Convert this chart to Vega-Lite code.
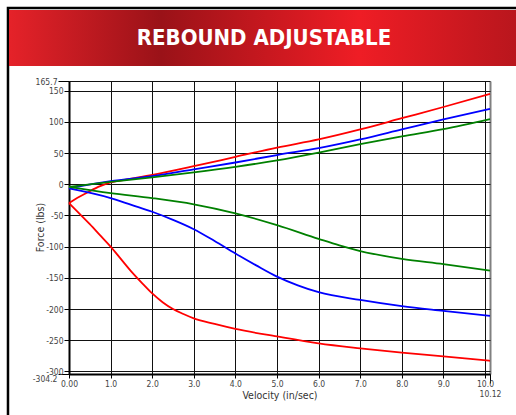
{
  "$schema": "https://vega.github.io/schema/vega-lite/v6.json",
  "width": 421,
  "height": 293,
  "autosize": {"type": "none"},
  "padding": {"left": 69, "top": 81, "right": 26, "bottom": 41},
  "background": "white",
  "config": {
    "view": {"stroke": null},
    "font": "DejaVu Sans Condensed, Liberation Sans, sans-serif",
    "axis": {"labelFont": "DejaVu Sans Condensed, Liberation Sans, sans-serif", "titleFont": "DejaVu Sans Condensed, Liberation Sans, sans-serif"}
  },
  "layer": [
    {
      "data": {"values": [{"title": "REBOUND ADJUSTABLE"}]},
      "layer": [
        {
          "mark": {"type": "rect", "filled": false, "stroke": "black", "strokeWidth": 2.5},
          "encoding": {
            "x": {"datum": -0.002, "type": "quantitative", "scale": {"domain": [0, 1], "range": [-60, 447], "nice": false, "zero": false}, "axis": null},
            "x2": {"datum": 1.2},
            "y": {"datum": -0.036, "type": "quantitative", "scale": {"domain": [0, 1], "range": [-71, -15], "nice": false, "zero": false}, "axis": null},
            "y2": {"datum": 8}
          }
        },
        {
          "mark": {
            "type": "rect",
            "color": {
              "gradient": "linear",
              "x1": 0, "y1": 0, "x2": 1, "y2": 0,
              "stops": [
                {"offset": 0, "color": "#e52229"},
                {"offset": 0.3, "color": "#9a1218"},
                {"offset": 0.69, "color": "#ef1d25"},
                {"offset": 1, "color": "#b9161d"}
              ]
            }
          },
          "encoding": {
            "x": {"datum": 0, "type": "quantitative"},
            "x2": {"datum": 1},
            "y": {"datum": 0, "type": "quantitative"},
            "y2": {"datum": 1}
          }
        },
        {
          "mark": {"type": "text", "color": "white", "fontSize": 22, "fontWeight": "bold", "font": "DejaVu Sans Condensed, Liberation Sans, sans-serif", "baseline": "middle", "align": "center"},
          "encoding": {
            "x": {"datum": 0.503, "type": "quantitative"},
            "y": {"datum": 0.5, "type": "quantitative"},
            "text": {"field": "title"}
          }
        }
      ]
    },
    {
      "data": {
        "values": [
          {"setting": "Max", "stroke": "Compression", "v": 0, "f": -30},
          {"setting": "Max", "stroke": "Compression", "v": 0.25, "f": -20},
          {"setting": "Max", "stroke": "Compression", "v": 0.5, "f": -11},
          {"setting": "Max", "stroke": "Compression", "v": 0.75, "f": -3},
          {"setting": "Max", "stroke": "Compression", "v": 1, "f": 3},
          {"setting": "Max", "stroke": "Compression", "v": 1.5, "f": 9},
          {"setting": "Max", "stroke": "Compression", "v": 2, "f": 15},
          {"setting": "Max", "stroke": "Compression", "v": 3, "f": 29},
          {"setting": "Max", "stroke": "Compression", "v": 4, "f": 44},
          {"setting": "Max", "stroke": "Compression", "v": 5, "f": 59},
          {"setting": "Max", "stroke": "Compression", "v": 6, "f": 72},
          {"setting": "Max", "stroke": "Compression", "v": 7, "f": 88},
          {"setting": "Max", "stroke": "Compression", "v": 8, "f": 106},
          {"setting": "Max", "stroke": "Compression", "v": 9, "f": 124},
          {"setting": "Max", "stroke": "Compression", "v": 10.12, "f": 145},

          {"setting": "Max", "stroke": "Rebound", "v": 0, "f": -30},
          {"setting": "Max", "stroke": "Rebound", "v": 0.25, "f": -47},
          {"setting": "Max", "stroke": "Rebound", "v": 0.5, "f": -64},
          {"setting": "Max", "stroke": "Rebound", "v": 0.75, "f": -82},
          {"setting": "Max", "stroke": "Rebound", "v": 1, "f": -100},
          {"setting": "Max", "stroke": "Rebound", "v": 1.25, "f": -120},
          {"setting": "Max", "stroke": "Rebound", "v": 1.5, "f": -140},
          {"setting": "Max", "stroke": "Rebound", "v": 1.75, "f": -158},
          {"setting": "Max", "stroke": "Rebound", "v": 2, "f": -175},
          {"setting": "Max", "stroke": "Rebound", "v": 2.25, "f": -189},
          {"setting": "Max", "stroke": "Rebound", "v": 2.5, "f": -200},
          {"setting": "Max", "stroke": "Rebound", "v": 2.75, "f": -208},
          {"setting": "Max", "stroke": "Rebound", "v": 3, "f": -215},
          {"setting": "Max", "stroke": "Rebound", "v": 3.5, "f": -224},
          {"setting": "Max", "stroke": "Rebound", "v": 4, "f": -232},
          {"setting": "Max", "stroke": "Rebound", "v": 5, "f": -244},
          {"setting": "Max", "stroke": "Rebound", "v": 6, "f": -255},
          {"setting": "Max", "stroke": "Rebound", "v": 7, "f": -263},
          {"setting": "Max", "stroke": "Rebound", "v": 8, "f": -270},
          {"setting": "Max", "stroke": "Rebound", "v": 9, "f": -276},
          {"setting": "Max", "stroke": "Rebound", "v": 10.12, "f": -283},

          {"setting": "Mid", "stroke": "Compression", "v": 0, "f": -6.5},
          {"setting": "Mid", "stroke": "Compression", "v": 1, "f": 5},
          {"setting": "Mid", "stroke": "Compression", "v": 2, "f": 13},
          {"setting": "Mid", "stroke": "Compression", "v": 3, "f": 24},
          {"setting": "Mid", "stroke": "Compression", "v": 4, "f": 35},
          {"setting": "Mid", "stroke": "Compression", "v": 5, "f": 47},
          {"setting": "Mid", "stroke": "Compression", "v": 6, "f": 58},
          {"setting": "Mid", "stroke": "Compression", "v": 7, "f": 72},
          {"setting": "Mid", "stroke": "Compression", "v": 8, "f": 88},
          {"setting": "Mid", "stroke": "Compression", "v": 9, "f": 104},
          {"setting": "Mid", "stroke": "Compression", "v": 10.12, "f": 121},

          {"setting": "Mid", "stroke": "Rebound", "v": 0, "f": -6.5},
          {"setting": "Mid", "stroke": "Rebound", "v": 1, "f": -22},
          {"setting": "Mid", "stroke": "Rebound", "v": 1.5, "f": -33},
          {"setting": "Mid", "stroke": "Rebound", "v": 2, "f": -44},
          {"setting": "Mid", "stroke": "Rebound", "v": 2.5, "f": -57},
          {"setting": "Mid", "stroke": "Rebound", "v": 3, "f": -72},
          {"setting": "Mid", "stroke": "Rebound", "v": 3.5, "f": -91},
          {"setting": "Mid", "stroke": "Rebound", "v": 4, "f": -111},
          {"setting": "Mid", "stroke": "Rebound", "v": 4.5, "f": -130},
          {"setting": "Mid", "stroke": "Rebound", "v": 5, "f": -148},
          {"setting": "Mid", "stroke": "Rebound", "v": 5.5, "f": -162},
          {"setting": "Mid", "stroke": "Rebound", "v": 6, "f": -173},
          {"setting": "Mid", "stroke": "Rebound", "v": 7, "f": -185.5},
          {"setting": "Mid", "stroke": "Rebound", "v": 8, "f": -195.5},
          {"setting": "Mid", "stroke": "Rebound", "v": 9, "f": -203},
          {"setting": "Mid", "stroke": "Rebound", "v": 10.12, "f": -211},

          {"setting": "Min", "stroke": "Compression", "v": 0, "f": -4},
          {"setting": "Min", "stroke": "Compression", "v": 1, "f": 4},
          {"setting": "Min", "stroke": "Compression", "v": 2, "f": 11},
          {"setting": "Min", "stroke": "Compression", "v": 3, "f": 19},
          {"setting": "Min", "stroke": "Compression", "v": 4, "f": 28},
          {"setting": "Min", "stroke": "Compression", "v": 5, "f": 38.5},
          {"setting": "Min", "stroke": "Compression", "v": 6, "f": 51},
          {"setting": "Min", "stroke": "Compression", "v": 7, "f": 64.5},
          {"setting": "Min", "stroke": "Compression", "v": 8, "f": 77},
          {"setting": "Min", "stroke": "Compression", "v": 9, "f": 88.5},
          {"setting": "Min", "stroke": "Compression", "v": 10.12, "f": 104.5},

          {"setting": "Min", "stroke": "Rebound", "v": 0, "f": -4},
          {"setting": "Min", "stroke": "Rebound", "v": 1, "f": -14},
          {"setting": "Min", "stroke": "Rebound", "v": 2, "f": -22},
          {"setting": "Min", "stroke": "Rebound", "v": 3, "f": -32},
          {"setting": "Min", "stroke": "Rebound", "v": 4, "f": -46.5},
          {"setting": "Min", "stroke": "Rebound", "v": 5, "f": -65.5},
          {"setting": "Min", "stroke": "Rebound", "v": 6, "f": -87.5},
          {"setting": "Min", "stroke": "Rebound", "v": 6.5, "f": -98},
          {"setting": "Min", "stroke": "Rebound", "v": 7, "f": -107},
          {"setting": "Min", "stroke": "Rebound", "v": 8, "f": -119.5},
          {"setting": "Min", "stroke": "Rebound", "v": 9, "f": -128},
          {"setting": "Min", "stroke": "Rebound", "v": 10.12, "f": -138.5}
        ]
      },
      "mark": {"type": "line", "interpolate": "monotone", "strokeWidth": 1.8},
      "encoding": {
        "x": {
          "field": "v", "type": "quantitative",
          "scale": {"domain": [0, 10.12], "nice": false, "zero": false},
          "axis": {
            "orient": "bottom",
            "values": [0, 1, 2, 3, 4, 5, 6, 7, 8, 9, 10, 10.12],
            "labelExpr": "datum.value == 0 ? '0.00' : datum.value == 10.12 ? '10.12' : format(datum.value, '.1f')",
            "grid": true,
            "gridColor": {"condition": {"test": "datum.value == 10.12", "value": "#808080"}, "value": "#111111"},
            "gridWidth": {"condition": {"test": "datum.value == 10.12", "value": 2}, "value": 1},
            "gridOpacity": 1,
            "domain": true, "domainColor": "black", "domainWidth": 2,
            "ticks": true, "tickColor": "black", "tickWidth": 1,
            "tickSize": {"condition": {"test": "datum.value == 10.12", "value": 9}, "value": 4},
            "labelPadding": {"condition": {"test": "datum.value == 10.12", "value": 6}, "value": 1},
            "labelFontSize": 8.5, "labelColor": "#444444",
            "labelOverlap": false, "labelBound": false, "labelFlush": false,
            "title": "Velocity (in/sec)", "titleFontSize": 10.5, "titleFontWeight": "normal", "titleColor": "#333333",
            "titleY": 21, "titleBaseline": "middle"
          }
        },
        "y": {
          "field": "f", "type": "quantitative",
          "scale": {"domain": [-304.2, 165.7], "nice": false, "zero": false},
          "axis": {
            "orient": "left",
            "values": [-304.2, -300, -250, -200, -150, -100, -50, 0, 50, 100, 150, 165.7],
            "labelExpr": "toString(datum.value)",
            "grid": true, "gridColor": "#111111", "gridWidth": 1, "gridOpacity": 1,
            "domain": true, "domainColor": "black", "domainWidth": 2,
            "ticks": true, "tickColor": "black", "tickWidth": 1,
            "tickSize": {"condition": {"test": "datum.value == 165.7 || datum.value == -304.2", "value": 11}, "value": 5},
            "labelPadding": 1,
            "labelOffset": {"condition": {"test": "datum.value == -304.2", "value": 4}, "value": 0},
            "labelFontSize": 8.5, "labelColor": "#444444",
            "labelOverlap": false, "labelBound": false, "labelFlush": false,
            "title": "Force (lbs)", "titleFontSize": 10.5, "titleFontWeight": "normal", "titleColor": "#333333",
            "titleX": -29, "titleY": 146, "titleAngle": -90, "titleBaseline": "middle", "titleAlign": "center"
          }
        },
        "color": {
          "field": "setting", "type": "nominal",
          "scale": {"domain": ["Max", "Mid", "Min"], "range": ["#ff0000", "#0000ff", "#008000"]},
          "legend": null
        },
        "detail": {"field": "stroke"}
      }
    }
  ],
  "resolve": {"scale": {"x": "independent", "y": "independent"}}
}
